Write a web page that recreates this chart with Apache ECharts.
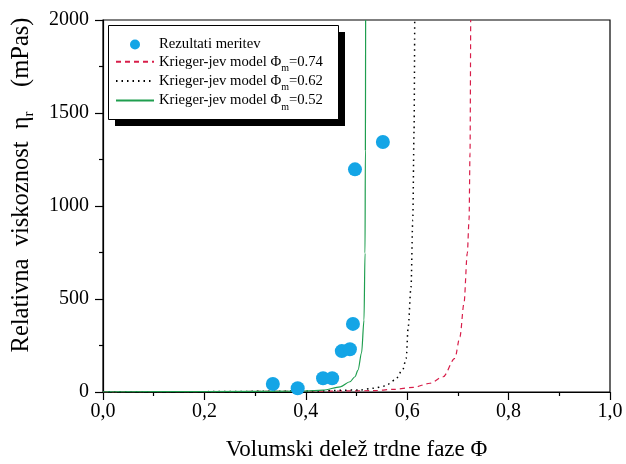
<!DOCTYPE html>
<html lang="sl">
<head>
<meta charset="UTF-8">
<title>Relativna viskoznost</title>
<script src="https://cdn.jsdelivr.net/npm/echarts@6/dist/echarts.min.js"></script>
<style>
  html, body { margin: 0; padding: 0; background: #fff; }
  #chart { width: 626px; height: 464px; }
</style>
</head>
<body>
<div id="chart"></div>
<script>
// measured points
var pointPhi = [0.335, 0.384, 0.434, 0.452, 0.471, 0.487, 0.493, 0.497, 0.552];
var pointEta = [43, 20, 74, 74, 220, 230, 366, 1197, 1344];

// model curves
var phi074 = [0, 0.2, 0.4, 0.533, 0.573, 0.612, 0.645, 0.671, 0.694, 0.704, 0.712, 0.7186, 0.722, 0.7239, 0.7252];
var eta074 = [1, 2, 4, 7, 14, 25, 47, 82, 181, 297, 477, 747, 925, 1285, 2000];

var phi062 = [0, 0.2, 0.4, 0.507, 0.533, 0.556, 0.576, 0.591, 0.598, 0.602, 0.6075, 0.611, 0.6135, 0.6148];
var eta062 = [1, 2, 5, 11, 20, 32, 64, 118, 181, 351, 564, 925, 1400, 2000];

var phi052 = [0, 0.2, 0.4, 0.434, 0.468, 0.487, 0.497, 0.503, 0.510, 0.5148, 0.5168, 0.5175, 0.518];
var eta052 = [1, 2, 5, 10, 28, 55, 82, 118, 210, 387, 747, 1300, 2000];

var xTicks = [0, 0.2, 0.4, 0.6, 0.8, 1.0];
var yTicks = [0, 500, 1000, 1500, 2000];

var seriesNames = ['Rezultati meritev', 'Krieger-jev model Φm=0.74', 'Krieger-jev model Φm=0.62', 'Krieger-jev model Φm=0.52'];

function pairs(xs, ys) {
  return xs.map(function (x, i) { return [x, ys[i]]; });
}

var serif = 'Liberation Serif';
var chart = echarts.init(document.getElementById('chart'));

// legend entries: line icons without the marker dot
var legendData = seriesNames.map(function (n, i) {
  return i === 0 ? { name: n } : { name: n, itemStyle: { opacity: 0 } };
});

var option = {
  animation: false,
  textStyle: { fontFamily: serif },
  grid: {
    left: 103, right: 16, top: 20, bottom: 72,
    containLabel: false,
    outerBoundsMode: 'none',
    show: true,
    borderColor: '#000',
    borderWidth: 1.2
  },
  // legend frame with its hard shadow
  graphic: [
    { type: 'rect', left: 115, top: 32, z: 3, shape: { width: 230, height: 94 }, style: { fill: '#000' } },
    { type: 'rect', left: 108, top: 25, z: 3, shape: { width: 230, height: 94 }, style: { fill: '#fff', stroke: '#000', lineWidth: 1 } }
  ],
  legend: {
    orient: 'vertical',
    left: 108,
    top: 25,
    z: 10,
    padding: [10, 14, 9, 7],
    itemWidth: 38,
    itemHeight: 10,
    itemGap: -1.7,
    data: legendData,
    formatter: function (name) {
      if (name.indexOf('Φm') < 0) return name;
      var parts = name.split('Φm');
      return parts[0] + 'Φ{sub|m}' + parts[1];
    },
    textStyle: {
      fontFamily: serif,
      fontSize: 14.7,
      color: '#000',
      lineHeight: 19,
      rich: {
        sub: { fontSize: 10, fontFamily: serif, color: '#000', verticalAlign: 'bottom', height: 6 }
      }
    }
  },
  xAxis: {
    type: 'value',
    min: 0,
    max: 1,
    interval: 0.2,
    name: 'Volumski delež trdne faze Φ',
    nameLocation: 'middle',
    nameGap: 46,
    nameTextStyle: { fontFamily: serif, fontSize: 23, color: '#000' },
    axisLine: { lineStyle: { color: '#000', width: 1.2 } },
    axisTick: { show: true, inside: false, length: 8, lineStyle: { color: '#000', width: 1.2 } },
    minorTick: { show: true, splitNumber: 2, length: 4, lineStyle: { color: '#000', width: 1.2 } },
    splitLine: { show: false },
    axisLabel: {
      fontFamily: serif, fontSize: 20, color: '#000', margin: 10,
      formatter: function (v) {
        return xTicks.indexOf(+v.toFixed(1)) >= 0 ? v.toFixed(1).replace('.', ',') : '';
      }
    }
  },
  yAxis: {
    type: 'value',
    min: 0,
    max: 2000,
    interval: 500,
    name: 'Relativna  viskoznost  η{sub|r}    (mPas)',
    nameLocation: 'middle',
    nameGap: 69,
    nameTextStyle: {
      fontFamily: serif, fontSize: 24.5, color: '#000',
      padding: [0, 0, 0, 42],
      rich: {
        sub: { fontSize: 15, fontFamily: serif, color: '#000', verticalAlign: 'bottom', height: 10 }
      }
    },
    axisLine: { show: true, lineStyle: { color: '#000', width: 1.2 } },
    axisTick: { show: true, inside: false, length: 8, lineStyle: { color: '#000', width: 1.2 } },
    minorTick: { show: true, splitNumber: 2, length: 4, lineStyle: { color: '#000', width: 1.2 } },
    splitLine: { show: false },
    axisLabel: {
      fontFamily: serif, fontSize: 20, color: '#000', margin: 14,
      formatter: function (v) { return yTicks.indexOf(v) >= 0 ? String(v) : ''; }
    }
  },
  series: [
    {
      name: seriesNames[0],
      type: 'scatter',
      symbol: 'circle',
      symbolSize: 14,
      itemStyle: { color: '#14a5e6', opacity: 1 },
      data: pairs(pointPhi, pointEta),
      z: 5
    },
    {
      name: seriesNames[1],
      type: 'line',
      showSymbol: false,
      symbol: 'none',
      smooth: 0.3,
      smoothMonotone: 'x',
      lineStyle: { color: '#d81e4a', width: 1.2, type: [5, 4] },
      itemStyle: { color: '#d81e4a' },
      data: pairs(phi074, eta074)
    },
    {
      name: seriesNames[2],
      type: 'line',
      showSymbol: false,
      symbol: 'none',
      smooth: 0.3,
      smoothMonotone: 'x',
      lineStyle: { color: '#000', width: 1.5, type: [1.5, 4] },
      itemStyle: { color: '#000' },
      data: pairs(phi062, eta062)
    },
    {
      name: seriesNames[3],
      type: 'line',
      showSymbol: false,
      symbol: 'none',
      smooth: 0.3,
      smoothMonotone: 'x',
      lineStyle: { color: '#1f9e4f', width: 1.2 },
      itemStyle: { color: '#1f9e4f' },
      data: pairs(phi052, eta052)
    }
  ]
};

chart.setOption(option);
</script>
</body>
</html>
